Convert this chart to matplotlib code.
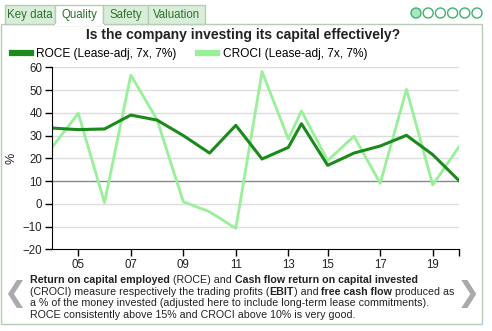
"""Quality tab: ROCE and CROCI."""

import matplotlib.pyplot as plt
from matplotlib.patches import Rectangle, Circle

plt.rcParams['font.family'] = ['Liberation Sans', 'DejaVu Sans']

# period end, in years after 2000 (fiscal year end moved in 2013)
period = [4, 5, 6, 7, 8, 9, 10, 11, 12, 13, 13.5, 14.5, 15.5, 16.5, 17.5, 18.5, 19.5]
roce = [33.3, 32.6, 32.9, 39.0, 36.8, 30.0, 22.3, 34.5, 19.7, 24.8, 35.2, 16.9, 22.3, 25.4,
        30.1, 21.6, 10.2]
croci = [24.8, 39.8, 0.5, 56.6, 37.0, 0.9, -3.5, -10.8, 58.1, 28.5, 40.8, 19.0, 29.7, 9.0,
         50.3, 8.3, 25.1]
tick_pos = [5, 7, 9, 11, 13, 14.5, 16.5, 18.5]
tick_lbl = ['05', '07', '09', '11', '13', '15', '17', '19']
tabs = ['Key data', 'Quality', 'Safety', 'Valuation']

W, H = 492, 331
fig = plt.figure(figsize=(W / 100, H / 100), dpi=100)

border = '#b5cdb5'
tabfill = '#d9eed9'
dark = '#1a8a1a'
light = '#98f098'
txtc = '#222222'

# background layer in pixel coordinates
bg = fig.add_axes([0, 0, 1, 1], zorder=-1)
bg.set_xlim(0, W)
bg.set_ylim(H, 0)
bg.axis('off')

bg.add_patch(Rectangle((1, 24), 481, 300, fc='white', ec=border, lw=1))
tab_x = [5, 55, 103, 148, 205]
for i, name in enumerate(tabs):
    sel = name == 'Quality'
    bg.add_patch(Rectangle((tab_x[i], 5), tab_x[i + 1] - tab_x[i], 20 if sel else 19,
                           fc='white' if sel else tabfill, ec=border, lw=1, zorder=3))
    bg.text((tab_x[i] + tab_x[i + 1]) / 2, 15, name, ha='center', va='center',
            fontsize=8.3, color='#2f6f2f', zorder=4)
bg.plot([55.5, 102.5], [24.5, 24.5], color='white', lw=1.5, zorder=5)

for i in range(6):
    bg.add_patch(Circle((416 + i * 12.2, 13), 5, fc='#a8e8bd' if i == 0 else 'white',
                        ec='#3cb371', lw=1))

bg.text(243, 35, 'Is the company investing its capital effectively?', ha='center',
        va='center', fontsize=10, fontweight='bold', color=txtc)

ax = fig.add_axes([52 / W, 1 - 249.3 / H, (459 - 52) / W, (249.3 - 67.3) / H])
ax.plot(period, croci, color=light, lw=2, label='CROCI (Lease-adj, 7x, 7%)')
ax.plot(period, roce, color=dark, lw=2.2, label='ROCE (Lease-adj, 7x, 7%)')
ax.set_xlim(4, 19.5)
ax.set_ylim(-20, 60)
ax.set_yticks(range(-20, 61, 10))
for v in range(-10, 61, 10):
    ax.axhline(v, color='#888888' if v == 10 else '#dddddd', lw=1, zorder=0)
ax.set_xticks(tick_pos + [19.5])
ax.set_xticklabels(tick_lbl + [''])
ax.tick_params(labelsize=8.3, length=5, width=1, colors='black', labelcolor=txtc, pad=2)
for s in ['top', 'right']:
    ax.spines[s].set_visible(False)
ax.set_ylabel('%', fontsize=9, color=txtc, labelpad=4)
ax.patch.set_alpha(0)

handles, labels = ax.get_legend_handles_labels()
ax.legend(handles[::-1], labels[::-1], ncol=2, loc='center left', bbox_to_anchor=(12 / W, 1 - 54 / H),
          bbox_transform=fig.transFigure, frameon=False, fontsize=8.6, handlelength=1.6,
          handletextpad=0.45, columnspacing=1.8, borderpad=0, borderaxespad=0)
for h in ax.get_legend().get_lines():
    h.set_linewidth(4.5)

# caption with bold fragments
lines = [
    [('Return on capital employed', 'bold'), (' (ROCE) and ', 'normal'),
     ('Cash flow return on capital invested', 'bold')],
    [('(CROCI) measure respectively the trading profits (', 'normal'), ('EBIT', 'bold'),
     (') and ', 'normal'), ('free cash flow', 'bold'), (' produced as', 'normal')],
    [('a % of the money invested (adjusted here to include long-term lease commitments).', 'normal')],
    [('ROCE consistently above 15% and CROCI above 10% is very good.', 'normal')],
]
for k, parts in enumerate(lines):
    last = None
    for txt, w in parts:
        if last is None:
            last = bg.text(30, 283 + k * 11.7, txt, fontsize=7.7, fontweight=w,
                           color=txtc, va='baseline')
        else:
            last = bg.annotate(txt, xy=(1, 0), xycoords=last, va='bottom', ha='left',
                               fontsize=7.7, fontweight=w, color=txtc,
                               annotation_clip=False)

# paging arrows
bg.text(15, 294, '\u276e', fontsize=20, color='#aaaaaa', ha='center', va='center',
        family=['DejaVu Sans'], fontweight='bold')
bg.text(468, 294, '\u276f', fontsize=20, color='#aaaaaa', ha='center', va='center',
        family=['DejaVu Sans'], fontweight='bold')

fig.savefig('out.png', dpi=100)
